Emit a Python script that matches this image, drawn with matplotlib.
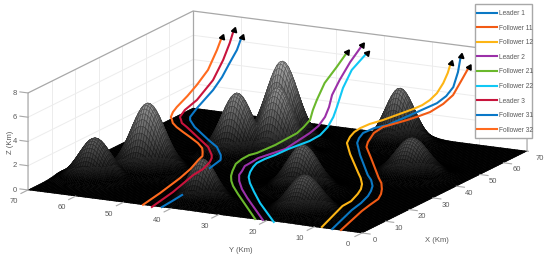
import numpy as np
import matplotlib
matplotlib.use("Agg")
import matplotlib.pyplot as plt
from matplotlib.patches import Rectangle
from mpl_toolkits.mplot3d import proj3d

plt.rcParams['font.family'] = ['Liberation Sans', 'DejaVu Sans']

# Terrain peaks (km, km, km, km)
peak_x = [14.0, 24.2, 8.3, 42.9, 56.2, 46.5, 25.7, 9.6, 64.6, 44.1]
peak_y = [62.9, 56.8, 37.5, 47.4, 44.5, 40.6, 25.1, 16.7, 24.0, 11.3]
peak_h = [3.3, 5.5, 3.4, 5.0, 6.5, 5.5, 3.5, 3.0, 4.5, 3.0]
peak_s = [3.0, 3.2, 2.6, 3.0, 3.0, 3.0, 3.0, 3.2, 2.8, 3.2]

# Trajectories
l1_x = [0.1, 14.7, 20.2, 25.6, 29.3, 32.8, 31.8, 32.4, 34.6, 36.8, 37.8, 38.3, 40.1, 41.7, 46.5, 48.5, 50.2, 51.7, 54.3, 56.7, 59.5]
l1_y = [6.3, 9.4, 10.2, 11.4, 12.6, 14.0, 13.8, 14.8, 17.5, 19.2, 19.3, 18.7, 17.3, 15.3, 11.9, 10.5, 9.1, 7.9, 7.7, 7.9, 8.7]
l1_z = [0, 0, 0, 0, 0, 0, 0.6, 0.9, 2.2, 2.9, 3.2, 3.6, 3.9, 4.1, 4.8, 5.1, 5.4, 5.9, 6.4, 7.4, 8.4]

f11_x = [0.2, 14.9, 19.7, 24.5, 28.1, 31.5, 32.3, 32.2, 35.2, 36.5, 37.5, 39.2, 41.6, 44.3, 46.5, 47.7, 50.2, 53.0, 56.3, 59.3]
f11_y = [4.5, 7.4, 8.1, 8.7, 9.9, 11.4, 11.9, 12.4, 15.5, 17.1, 17.3, 16.9, 16.2, 12.5, 11.0, 9.3, 7.8, 7.1, 6.7, 6.9]
f11_z = [0, 0, 0, 0, 0, 0, 0.4, 0.8, 2.0, 2.7, 3.0, 3.6, 3.9, 4.4, 4.6, 4.9, 5.4, 5.9, 7.0, 7.6]

f12_x = [0.6, 16.6, 20.7, 26.1, 29.7, 33.2, 30.6, 31.4, 33.6, 35.9, 37.0, 38.2, 38.9, 40.9, 42.2, 46.7, 48.4, 50.0, 51.2, 53.7, 56.0, 58.1]
f12_y = [8.7, 12.3, 12.5, 13.8, 14.9, 16.4, 15.4, 16.3, 19.1, 20.9, 20.8, 20.5, 19.6, 18.6, 16.5, 12.3, 11.3, 10.5, 9.6, 9.5, 9.7, 10.1]
f12_z = [0, 0, 0, 0, 0, 0, 0.8, 1.1, 2.3, 2.9, 3.3, 3.6, 3.9, 4.1, 4.4, 5.1, 5.3, 5.6, 6.1, 6.7, 7.3, 7.9]

l2_x = [0.2, 13.7, 19.3, 24.6, 26.2, 26.6, 27.8, 28.6, 30.2, 31.4, 34.7, 39.4, 40.8, 43.4, 44.7, 47.4, 50.0, 54.1, 57.6]
l2_y = [20.9, 30.8, 34.7, 37.9, 38.7, 38.3, 38.3, 37.6, 36.7, 35.4, 33.2, 30.4, 29.3, 29.2, 29.0, 29.7, 29.4, 29.2, 28.4]
l2_z = [0, 0, 0, 0, 0.3, 0.6, 0.9, 1.1, 1.4, 1.6, 1.9, 2.9, 3.4, 3.9, 4.6, 5.3, 6.3, 7.4, 8.5]

f21_x = [0.2, 15.6, 20.6, 23.9, 24.8, 25.8, 27.6, 29.0, 29.8, 31.1, 34.0, 38.2, 39.6, 40.9, 42.9, 45.2, 48.3, 52.0, 55.7]
f21_y = [22.5, 33.7, 37.2, 39.2, 39.7, 39.9, 40.1, 39.5, 38.4, 37.4, 35.0, 32.5, 31.8, 31.1, 31.5, 31.8, 31.7, 31.0, 30.6]
f21_z = [0, 0, 0, 0, 0.3, 0.6, 1.0, 1.3, 1.6, 1.7, 2.2, 2.9, 3.3, 3.8, 4.4, 5.0, 6.1, 7.1, 8.0]

f22_x = [-0.2, 11.4, 18.4, 24.1, 26.4, 27.4, 28.7, 29.2, 31.0, 32.1, 34.9, 38.1, 39.7, 41.7, 44.1, 45.4, 49.8, 52.9, 57.5]
f22_y = [18.4, 27.0, 31.7, 35.4, 36.8, 37.0, 37.0, 36.5, 35.7, 34.1, 32.7, 29.8, 28.4, 27.8, 27.8, 27.7, 28.6, 28.3, 27.4]
f22_z = [0, 0, 0, 0, 0.2, 0.5, 0.8, 1.1, 1.3, 1.6, 1.9, 2.4, 2.8, 3.3, 3.9, 4.6, 5.7, 6.9, 7.9]

l3_x = [-0.7, 11.3, 24.5, 29.5, 33.2, 34.4, 34.8, 35.9, 35.8, 36.4, 36.8, 37.5, 37.8, 38.1, 40.0, 42.1, 47.1, 51.0, 54.8, 57.3]
l3_y = [43.7, 45.2, 47.5, 47.9, 48.3, 48.5, 48.7, 50.0, 51.5, 53.6, 54.9, 56.3, 56.6, 57.0, 56.9, 55.4, 54.5, 54.3, 54.8, 55.2]
l3_z = [0, 0, 0, 0, 0.2, 0.4, 0.6, 1.1, 1.6, 2.1, 2.4, 2.6, 2.8, 3.0, 3.4, 4.1, 5.3, 6.6, 7.6, 8.4]

# the nan is where the line goes behind the small hill
f31_x = [0.1, 5.1, 10.1, np.nan, 30.8, 34.7, 35.2, 35.6, 36.6, 36.5, 37.1, 37.5, 38.4, 38.6, 39.0, 40.7, 45.3, 48.3, 51.1, 54.0, 56.6]
f31_y = [42.0, 42.3, 42.7, np.nan, 47.1, 46.8, 47.0, 47.2, 48.5, 50.2, 52.3, 53.6, 54.6, 55.1, 55.3, 54.7, 53.6, 53.2, 53.0, 52.9, 53.2]
f31_z = [0, 0, 0, np.nan, 0, 0.3, 0.4, 0.6, 1.1, 1.6, 2.1, 2.4, 2.6, 2.8, 3.0, 3.6, 4.7, 5.5, 6.4, 7.2, 8.0]

f32_x = [0, 9.5, 21.4, 28.4, 32.8, 33.3, 34.4, 34.6, 35.2, 35.3, 35.6, 35.9, 36.7, 37.0, 37.3, 38.4, 39.6, 42.3, 44.9, 48.6, 52.2, 54.9]
f32_y = [45.9, 47.0, 48.7, 50.0, 50.5, 49.9, 50.4, 50.6, 51.8, 53.5, 55.1, 56.6, 57.8, 58.1, 58.5, 58.6, 58.4, 57.5, 56.8, 56.3, 56.2, 56.5]
f32_z = [0, 0, 0, 0, 0.3, 0.6, 0.8, 1.1, 1.4, 1.8, 2.1, 2.4, 2.6, 2.8, 3.0, 3.3, 3.6, 4.3, 5.0, 5.9, 7.2, 8.0]

names = ['Leader 1', 'Follower 11', 'Follower 12', 'Leader 2', 'Follower 21',
         'Follower 22', 'Leader 3', 'Follower 31', 'Follower 32']
colors = ['#0a78c4', '#f25a14', '#fdb515', '#9b30a8', '#6ab82c',
          '#10c8f5', '#c8143c', '#0a78c8', '#ff6a1e']
paths = [(l1_x, l1_y, l1_z), (f11_x, f11_y, f11_z), (f12_x, f12_y, f12_z),
         (l2_x, l2_y, l2_z), (f21_x, f21_y, f21_z), (f22_x, f22_y, f22_z),
         (l3_x, l3_y, l3_z), (f31_x, f31_y, f31_z), (f32_x, f32_y, f32_z)]

ticks_xy = [0, 10, 20, 30, 40, 50, 60, 70]
ticks_z = [0, 2, 4, 6, 8]
tick_color = '#5a5a5a'
box_color = '#a8a8a8'
grid_color = '#ececec'

fig = plt.figure(figsize=(5.5, 2.62), dpi=100)
ax = fig.add_axes([0, 0, 1, 1], projection='3d', proj_type='ortho', computed_zorder=False)
ax.view_init(elev=14.65, azim=-153)
ax.set_box_aspect((363.6, 374.9, 100.3))
ax.set_xlim(0, 70)
ax.set_ylim(0, 70)
ax.set_zlim(0, 8)
ax.set_axis_off()

# Walls
for t in ticks_xy[1:-1]:
    ax.plot([t, t], [70, 70], [0, 8], color=grid_color, lw=0.7, zorder=0)
    ax.plot([70, 70], [t, t], [0, 8], color=grid_color, lw=0.7, zorder=0)
for t in ticks_z[1:-1]:
    ax.plot([0, 70, 70], [70, 70, 0], [t, t, t], color=grid_color, lw=0.7, zorder=0)
ax.plot([0, 0, 70, 70, 70], [70, 70, 70, 0, 0], [0, 8, 8, 8, 0], color=box_color, lw=0.9, zorder=0)
ax.plot([70, 70], [70, 70], [0, 8], color=box_color, lw=0.9, zorder=0)

# Terrain
gx, gy = np.meshgrid(np.arange(0, 70.5, 0.5), np.arange(0, 70.5, 0.5))
gz = np.zeros_like(gx)
for px, py, h, s in zip(peak_x, peak_y, peak_h, peak_s):
    gz = np.maximum(gz, h * np.exp(-((gx - px) ** 2 + (gy - py) ** 2) / (2 * s ** 2)))
face = np.clip((np.maximum(gz[:-1, :-1] - 0.3, 0) / 8) ** 0.8 * 0.85, 0, 1)
surf = ax.plot_surface(gx, gy, gz, rstride=1, cstride=1, facecolors=plt.cm.gray(face), shade=False, zorder=1)
surf.set_edgecolor(plt.cm.gray(face * 0.55).reshape(-1, 4))
surf.set_linewidth(0.35)

# Ticks
for t in ticks_xy:
    ax.plot([0, -3], [t, t], [0, 0], color=box_color, lw=0.8, zorder=1)
    ax.plot([t, t], [0, -1.7], [0, 0], color=box_color, lw=0.8, zorder=1)
for t in ticks_z:
    ax.plot([0, 0], [70, 71.7], [t, t], color=box_color, lw=0.8, zorder=1)

# Trajectories with arrow heads
M = ax.get_proj()
handles = []
for (x, y, z), c, n in zip(paths, colors, names):
    line, = ax.plot(x, y, z, color=c, lw=1.5, label=n, zorder=3, solid_joinstyle='round')
    handles.append(line)
    u, v, _ = proj3d.proj_transform(np.array(x[-2:]), np.array(y[-2:]), np.array(z[-2:]), M)
    ang = np.degrees(np.arctan2(v[1] - v[0], u[1] - u[0])) - 90
    ax.plot(x[-1:], y[-1:], z[-1:], marker=(3, 0, ang), ms=4.5, color='black', ls='none', zorder=4)

# Place the box on the pixel corners of the reference
u, v, _ = proj3d.proj_transform(np.array([0., 70., 0.]), np.array([0., 0., 70.]), np.zeros(3), M)
a, b = ax.viewLim.intervalx
c, d = ax.viewLim.intervaly
W = 499 * (b - a) / (u[1] - u[2])
left = 362 - W * (u[0] - a) / (b - a)
bottom = (262 - 233) - W * (v[0] - c) / (d - c)
ax.set_position([left / 550, bottom / 262, W / 550, W / 262])


def tick_text(x, y, z, s):
    # tick labels as plain 2D text at the projected position
    tu, tv, _ = proj3d.proj_transform(x, y, z, M)
    ax.text2D(tu, tv, s, transform=ax.transData, color=tick_color, fontsize=5.5, ha='center', va='center')


for t in ticks_xy:
    tick_text(-6, t, -0.4, str(t))
    tick_text(t, -2.7, -0.45, str(t))
for t in ticks_z:
    tick_text(0, 72.7, t - 0.15, str(t))

fig.text(437 / 550, 1 - 241 / 262, 'X (Km)', color=tick_color, fontsize=5.5, ha='center', va='center')
fig.text(241 / 550, 1 - 251 / 262, 'Y (Km)', color=tick_color, fontsize=5.5, ha='center', va='center')
fig.text(10 / 550, 1 - 142 / 262, 'Z (Km)', color=tick_color, fontsize=5.5, ha='center', va='center', rotation=90)

# Legend frame is a separate box so the rows can sit like in the original
fig.add_artist(Rectangle((475 / 550, 1 - 138 / 262), 57 / 550, 134 / 262, transform=fig.transFigure,
                         facecolor='white', edgecolor=box_color, lw=1, zorder=5))
leg = fig.legend(handles=handles, loc='upper left', bbox_to_anchor=(477 / 550, 1 - 10 / 262), borderaxespad=0,
                 fontsize=4.8, handlelength=3, handletextpad=0.35, labelspacing=1.14, borderpad=0,
                 frameon=False, labelcolor=tick_color)
leg.set_zorder(6)

fig.savefig('out.png', dpi=100)
